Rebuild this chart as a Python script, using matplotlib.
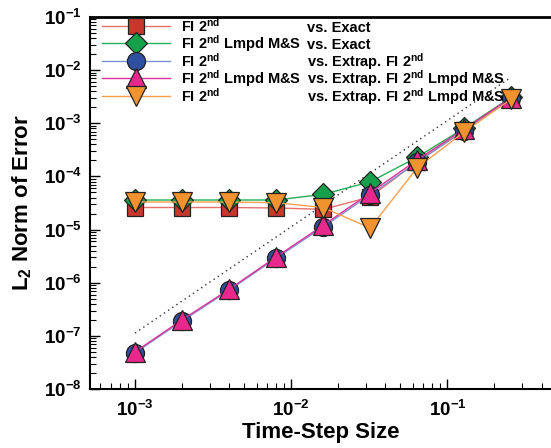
import numpy as np
import matplotlib
matplotlib.use('Agg')
import matplotlib.pyplot as plt
from matplotlib.ticker import FuncFormatter, LogLocator

plt.rcParams['font.family'] = ['Liberation Sans', 'DejaVu Sans']
plt.rcParams['font.weight'] = 'bold'
plt.rcParams['mathtext.fontset'] = 'custom'
plt.rcParams['mathtext.rm'] = 'Liberation Sans:bold'
plt.rcParams['mathtext.it'] = 'Liberation Sans:bold'
plt.rcParams['mathtext.bf'] = 'Liberation Sans:bold'

# time step sizes
dt = [0.001, 0.002, 0.004, 0.008, 0.016, 0.032, 0.064, 0.128, 0.256]

# L2 error norms
fi2_exact = [2.6e-5, 2.6e-5, 2.6e-5, 2.55e-5, 2.4e-5, 4.1e-5, 1.9e-4, 7.4e-4, 3.0e-3]
lmpd_exact = [3.6e-5, 3.6e-5, 3.6e-5, 3.6e-5, 4.6e-5, 7.9e-5, 2.3e-4, 8.1e-4, 3.1e-3]
fi2_extrap = [4.8e-8, 1.9e-7, 7.2e-7, 2.9e-6, 1.12e-5, 4.5e-5, 1.85e-4, 7.3e-4, 2.95e-3]
lmpd_extrap = [5.0e-8, 2.0e-7, 7.5e-7, 3.05e-6, 1.2e-5, 4.9e-5, 2.05e-4, 7.8e-4, 3.05e-3]
fi2_vs_lmpd = [3.3e-5, 3.3e-5, 3.3e-5, 3.2e-5, 2.6e-5, 1.07e-5, 1.45e-4, 6.9e-4, 2.85e-3]

# second-order reference slope
ref_dt = [0.001, 0.256]
ref_err = [1.13e-7, 7.4e-3]

labels_left = [r'FI 2$^{\mathrm{nd}}$',
               r'FI 2$^{\mathrm{nd}}$ Lmpd M&S',
               r'FI 2$^{\mathrm{nd}}$',
               r'FI 2$^{\mathrm{nd}}$ Lmpd M&S',
               r'FI 2$^{\mathrm{nd}}$']
labels_right = [r'vs. Exact',
                r'vs. Exact',
                r'vs. Extrap. FI 2$^{\mathrm{nd}}$',
                r'vs. Extrap. FI 2$^{\mathrm{nd}}$ Lmpd M&S',
                r'vs. Extrap. FI 2$^{\mathrm{nd}}$ Lmpd M&S']

fig = plt.figure(figsize=(5.51, 4.48), dpi=100)
ax = fig.add_axes([90/551, 1-389/448, 1-90/551, (389-17)/448])

series = [
    (fi2_exact, 's', '#c8372d', '#e8706a', 12),
    (lmpd_exact, 'D', '#17a04b', '#1fb055', 11.5),
    (fi2_extrap, 'o', '#2f4f9f', '#7f90d0', 13),
    (lmpd_extrap, '^', '#e8288c', '#e0309a', 14),
    (fi2_vs_lmpd, 'v', '#f0922e', '#f5a050', 14),
]
handles = []
for vals, mk, fc, lc, ms in series:
    h, = ax.plot(dt, vals, color=lc, lw=1.0, marker=mk, ms=ms,
                 mfc=fc, mec='#222222', mew=0.9)
    handles.append(h)

ax.plot(ref_dt, ref_err, color='#333333', lw=1.0, linestyle=(0, (1, 2.6)), zorder=1)

ax.set_xscale('log')
ax.set_yscale('log')
ax.set_xlim(5.15e-4, 0.46)
ax.set_ylim(1e-8, 1e-1)

fmt = FuncFormatter(lambda v, p: r'$\mathrm{10^{%d}}$' % int(round(np.log10(v))))
ax.xaxis.set_major_formatter(fmt)
ax.yaxis.set_major_formatter(fmt)
ax.xaxis.set_minor_locator(LogLocator(base=10, subs=np.arange(2, 10)))
ax.yaxis.set_minor_locator(LogLocator(base=10, subs=np.arange(2, 10), numticks=20))
ax.yaxis.set_major_locator(LogLocator(base=10, numticks=20))
ax.tick_params(which='both', direction='in', top=False, right=False, labelsize=13.5)
ax.tick_params(which='major', length=7, width=1)
ax.tick_params(which='minor', length=4, width=0.8)
ax.tick_params(axis='x', pad=8)
ax.tick_params(axis='y', pad=6)

ax.spines['right'].set_visible(False)
ax.spines['top'].set_linewidth(2)
ax.spines['left'].set_linewidth(1.5)
ax.spines['bottom'].set_linewidth(1.5)

ax.set_xlabel('Time-Step Size', fontsize=16, fontweight='bold')
ax.set_ylabel(r'L$_\mathrm{2}$ Norm of Error', fontsize=16, fontweight='bold')
ax.xaxis.set_label_coords(0.5, -(432-389)/372, transform=ax.transAxes)
ax.xaxis.label.set_va('center')
ax.yaxis.set_label_coords(-(90-22)/461, 0.5, transform=ax.transAxes)
ax.yaxis.label.set_va('center')

leg = ax.legend(handles, labels_left, loc='upper left', frameon=False,
                fontsize=10.5, handlelength=4.66, handletextpad=0.75,
                handleheight=1.17, labelspacing=-0.13,
                borderaxespad=0.62, borderpad=0.2,
                bbox_to_anchor=(0.0, 1.032))

# second column of the legend, aligned to the legend rows
fig.canvas.draw()
inv = ax.transAxes.inverted()
for txt, lab in zip(leg.get_texts(), labels_right):
    bx, by = txt.get_transform().transform((0, 0))
    _, ya = inv.transform((bx, by))
    ax.text((307-90)/461, ya, lab, transform=ax.transAxes, fontsize=10.5,
            va='baseline', ha='left')

fig.savefig('out.png', dpi=100)
